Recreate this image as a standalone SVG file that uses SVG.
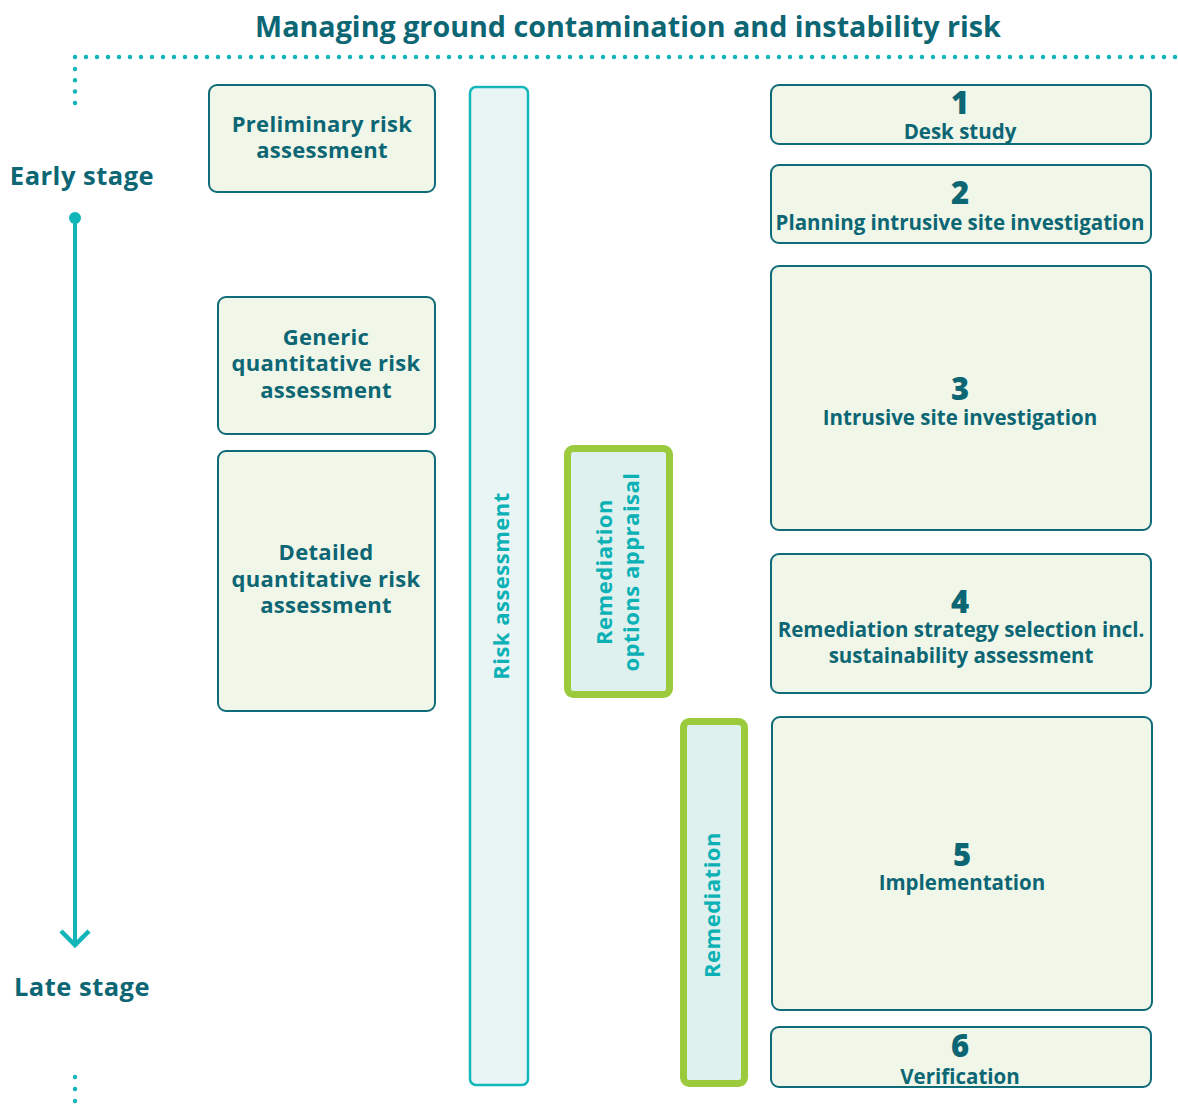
<svg xmlns="http://www.w3.org/2000/svg" width="1178" height="1120" viewBox="0 0 1178 1120">
<style>
text{font-family:"Open Sans","Liberation Sans",sans-serif;font-weight:700;}
.t{fill:#0c6674;text-anchor:middle;font-size:20.5px;}
.l{fill:#0c6674;text-anchor:middle;font-size:22px;letter-spacing:0.3px;}
.s{fill:#0c6674;text-anchor:middle;font-size:25.5px;letter-spacing:0.5px;}
.n{fill:#0c6674;text-anchor:middle;font-size:31px;font-weight:800;}
.box{fill:#f1f7e8;stroke:#0f6b78;stroke-width:2;}
.bar{fill:#e9f5f4;stroke:#14b8bb;stroke-width:2.5;}
.gbar{fill:#dff1ef;stroke:#9bcb3c;stroke-width:7;}
.vt{fill:#0bb1b5;text-anchor:middle;font-size:22px;letter-spacing:0.5px;}
.dot{fill:#12b5b8;}
</style>
<rect width="1178" height="1120" fill="#ffffff"/>
<text x="628" y="37" class="t" style="font-size:28.7px">Managing ground contamination and instability risk</text>
<g id="timeline">
<line x1="75" y1="57" x2="1178" y2="57" stroke="#12b5b8" stroke-width="4.5" stroke-linecap="round" stroke-dasharray="0 11"/>
<line x1="75" y1="69" x2="75" y2="103" stroke="#12b5b8" stroke-width="4.5" stroke-linecap="round" stroke-dasharray="0 11.3"/>
<line x1="75" y1="1077" x2="75" y2="1113" stroke="#12b5b8" stroke-width="4.5" stroke-linecap="round" stroke-dasharray="0 12"/>
<text x="82" y="185" class="s">Early stage</text>
<text x="82" y="996" class="s">Late stage</text>
</g>
<g id="connectors">
<circle cx="75" cy="218" r="6" class="dot"/>
<line x1="75" y1="218" x2="75" y2="944" stroke="#12b5b8" stroke-width="4"/>
<polyline points="61,931 75,945 89,931" fill="none" stroke="#12b5b8" stroke-width="4.5"/>
</g>
<g id="preliminary">
<rect x="209" y="85" width="226" height="107" rx="8" class="box"/>
<text x="322" y="132" class="l">Preliminary risk</text>
<text x="322" y="158" class="l">assessment</text>
</g>
<g id="generic">
<rect x="218" y="297" width="217" height="137" rx="8" class="box"/>
<text x="326" y="345" class="l">Generic</text>
<text x="326" y="371" class="l">quantitative risk</text>
<text x="326" y="398" class="l">assessment</text>
</g>
<g id="detailed">
<rect x="218" y="451" width="217" height="260" rx="8" class="box"/>
<text x="326" y="560" class="l">Detailed</text>
<text x="326" y="587" class="l">quantitative risk</text>
<text x="326" y="613" class="l">assessment</text>
</g>
<g id="risk-assessment">
<rect x="470" y="87" width="58" height="998" rx="6" class="bar"/>
<text transform="translate(509,586) rotate(-90)" class="vt">Risk assessment</text>
</g>
<g id="remediation-options">
<rect x="567.5" y="448.5" width="102" height="246" rx="6" class="gbar"/>
<text transform="translate(612,572) rotate(-90)" class="vt">Remediation</text>
<text transform="translate(639,572) rotate(-90)" class="vt">options appraisal</text>
</g>
<g id="remediation">
<rect x="683.5" y="721.5" width="61" height="362" rx="6" class="gbar"/>
<text transform="translate(720,905) rotate(-90)" class="vt">Remediation</text>
</g>
<g id="step1">
<rect x="771" y="85" width="380" height="59" rx="8" class="box"/>
<text x="960" y="114" class="n">1</text>
<text x="960" y="139" class="t">Desk study</text>
</g>
<g id="step2">
<rect x="771" y="165" width="380" height="78" rx="8" class="box"/>
<text x="960" y="204" class="n">2</text>
<text x="960" y="230" class="t">Planning intrusive site investigation</text>
</g>
<g id="step3">
<rect x="771" y="266" width="380" height="264" rx="8" class="box"/>
<text x="960" y="400" class="n">3</text>
<text x="960" y="425" class="t">Intrusive site investigation</text>
</g>
<g id="step4">
<rect x="771" y="554" width="380" height="139" rx="8" class="box"/>
<text x="960" y="613" class="n">4</text>
<text x="961" y="637" class="t">Remediation strategy selection incl.</text>
<text x="961" y="663" class="t">sustainability assessment</text>
</g>
<g id="step5">
<rect x="772" y="717" width="380" height="293" rx="8" class="box"/>
<text x="962" y="866" class="n">5</text>
<text x="962" y="890" class="t">Implementation</text>
</g>
<g id="step6">
<rect x="771" y="1027" width="380" height="60" rx="8" class="box"/>
<text x="960" y="1057" class="n">6</text>
<text x="960" y="1084" class="t">Verification</text>
</g>
</svg>
